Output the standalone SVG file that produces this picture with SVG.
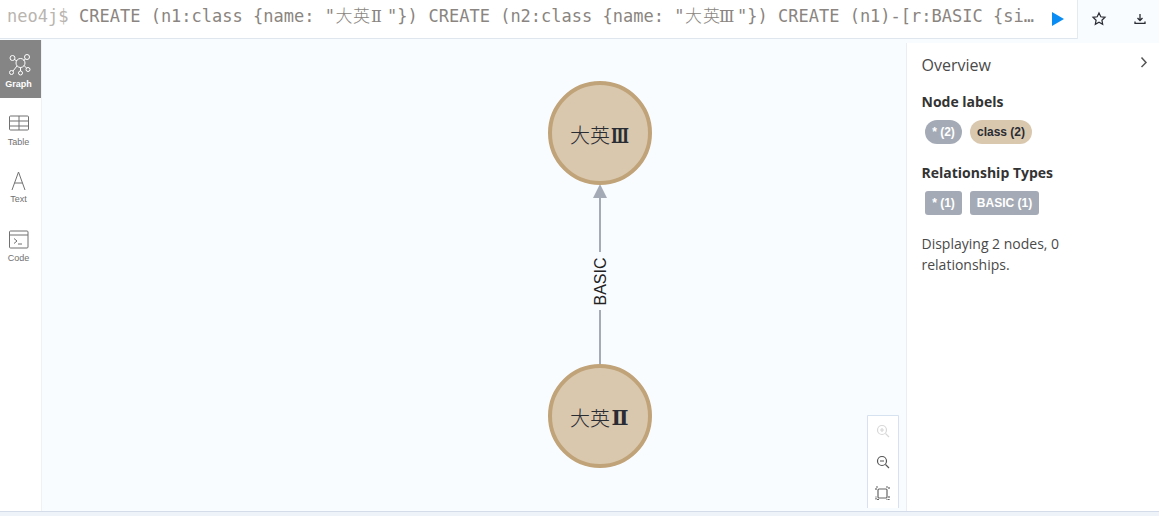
<svg xmlns="http://www.w3.org/2000/svg" width="1159" height="516" viewBox="0 0 1159 516">
<style>
.ed{font:17px "DejaVu Sans Mono","Noto Sans CJK SC",monospace;fill:#8a8580}
.cjk{font-family:"Noto Sans CJK SC",sans-serif;font-weight:300}
.rom{font-family:"DejaVu Serif",serif;font-size:16px}
.nav{font:9px "Liberation Sans",sans-serif;fill:#717172;text-anchor:middle}
.h{font:bold 14px "Open Sans",sans-serif;fill:#333}
.p{font:14px "Open Sans",sans-serif;fill:#4a4a4a}
.pill{font:bold 12px "Liberation Sans",sans-serif;fill:#fff;text-anchor:middle}
.nt{font:300 20px "Noto Sans CJK SC",sans-serif;fill:#2a2c34}
.nr{font:bold 20.500px "DejaVu Serif",serif;fill:#2a2c34}
.ic{fill:none;stroke:#717172;stroke-width:1}
</style>
<rect width="1159" height="516" fill="#f9fcff"/>
<rect x="0" y="0" width="1159" height="38" fill="#fff"/>
<rect x="1077" y="0" width="82" height="42" fill="#f9fcff"/>
<rect x="0" y="38" width="1077" height="1" fill="#dfe6ee"/>
<rect x="1077" y="0" width="1" height="39" fill="#e4eaf1"/>
<text class="ed" y="22"><tspan x="7" fill="#b9b5b0">neo4j$</tspan><tspan x="79">CREATE (n1:class {name: "</tspan><tspan x="335.500" class="cjk">大</tspan><tspan x="353" class="cjk">英</tspan><tspan x="371" class="rom">Ⅱ</tspan><tspan x="387">"}) </tspan><tspan x="428.500">CREATE (n2:class {name: "</tspan><tspan x="685" class="cjk">大</tspan><tspan x="703" class="cjk">英</tspan><tspan x="719" class="rom">Ⅲ</tspan><tspan x="737">"}) </tspan><tspan x="778">CREATE (n1)-[r:BASIC {si…</tspan></text>
<path d="M1052 12L1064 19L1052 26Z" fill="#0a8cf5"/>
<path d="M1099 13l1.800 3.800 4.200.5-3.100 2.900.8 4.100-3.700-2-3.700 2 .8-4.100-3.100-2.900 4.200-.5Z" fill="none" stroke="#2a2c34" stroke-width="1.200"/>
<path d="M1140 14v6M1137.500 18l2.500 2.500 2.500-2.500M1135 21.500v1.800h10v-1.800" fill="none" stroke="#2a2c34" stroke-width="1.300"/>

<rect x="0" y="40" width="41" height="472" fill="#fff"/>
<rect x="41" y="40" width="1" height="472" fill="#eef2f7"/>
<g id="nav-graph">
<rect x="0" y="40" width="41" height="58" fill="#858585"/>
<g fill="none" stroke="#fff" stroke-width="1"><circle cx="20.500" cy="63" r="4.500"/><circle cx="12.500" cy="58" r="2.500"/><circle cx="27" cy="57" r="2.500"/><circle cx="11.500" cy="72.500" r="2"/><circle cx="20.500" cy="73" r="2"/><circle cx="28" cy="69.500" r="2"/><path d="M14.500 59.500L17 61M25.500 59L23.500 60.500M17 66L13 71M20.500 67.500V71M24 65.500L26.500 68"/></g>
<text class="nav" x="18.500" y="87" style="fill:#fff;font-weight:bold">Graph</text>
</g>
<g id="nav-table">
<rect class="ic" x="9.500" y="116" width="19" height="14" rx="1"/><path class="ic" d="M9.500 121H28.500M9.500 126H28.500M19 116V130"/>
<text class="nav" x="18.500" y="145">Table</text>
</g>
<g id="nav-text">
<path class="ic" d="M12 190L18.500 172L25 190M14.500 183H22.500"/>
<text class="nav" x="18.500" y="202">Text</text>
</g>
<g id="nav-code">
<rect class="ic" x="9.500" y="231" width="18.500" height="17" rx="1"/><path class="ic" d="M9.500 235H28M14 238.500L17 241L14 243.500M18 244H22"/>
<text class="nav" x="18.500" y="261">Code</text>
</g>

<g id="connectors">
<path d="M600 364V310" stroke="#a5abb6" stroke-width="2" fill="none"/>
<path d="M600 252V198" stroke="#a5abb6" stroke-width="2" fill="none"/>
<path d="M600 184L607 198H593Z" fill="#a5abb6"/>
<text transform="translate(605.500,281.500) rotate(-90)" text-anchor="middle" style="font:16px 'Liberation Sans',sans-serif;fill:#222">BASIC</text>
</g>
<g id="node-n2">
<circle cx="600" cy="133" r="50" fill="#d9c8ae" stroke="#c0a378" stroke-width="4"/>
<text class="nt" x="570" y="143">大英</text>
<text class="nr" x="611" y="143" textLength="18" lengthAdjust="spacingAndGlyphs">Ⅲ</text>
</g>
<g id="node-n1">
<circle cx="600" cy="416" r="50" fill="#d9c8ae" stroke="#c0a378" stroke-width="4"/>
<text class="nt" x="570" y="426">大英</text>
<text class="nr" x="611.500" y="425" textLength="17" lengthAdjust="spacingAndGlyphs">Ⅱ</text>
</g>

<g id="zoom-controls">
<path d="M867.500 508V415.500H898.500V508" fill="#fff" stroke="#d7e2f1"/>
<g fill="none" stroke-width="1.200"><g stroke="#d8d8d8"><circle cx="882" cy="430" r="4.500"/><path d="M885.500 433.500L889 437M880 430H884M882 428V432"/></g>
<g stroke="#555"><circle cx="882" cy="461" r="4.500"/><path d="M885.500 464.500L889 468M880 461H884"/></g>
<g stroke="#666"><rect x="878" y="489" width="9" height="9" rx="1"/><path d="M876 490V487H879M886 487H889V490M889 496V499.500H886M879 499.500H876V496" stroke-dasharray="2 1"/></g></g>
</g>

<g id="overview">
<rect x="907" y="43" width="252" height="469" fill="#fff"/>
<rect x="906" y="43" width="1" height="469" fill="#e9eef4"/>
<text x="921.500" y="71" style="font:16px 'Open Sans',sans-serif;fill:#4a4a4a">Overview</text>
<path d="M1141.500 57.500L1146 62.500L1141.500 67" fill="none" stroke="#555" stroke-width="1.500"/>
<text class="h" x="921.500" y="107">Node labels</text>
<rect x="925" y="120" width="37" height="24" rx="12" fill="#a5abb6"/>
<text class="pill" x="943.500" y="136">* (2)</text>
<rect x="970" y="120" width="62" height="24" rx="12" fill="#d9c8ae"/>
<text class="pill" x="1001" y="136" style="fill:#2a2c34">class (2)</text>
<text class="h" x="921.500" y="178">Relationship Types</text>
<rect x="925" y="191" width="37" height="24" rx="3" fill="#a5abb6"/>
<text class="pill" x="943.500" y="207">* (1)</text>
<rect x="970" y="191" width="69" height="24" rx="3" fill="#a5abb6"/>
<text class="pill" x="1004.500" y="207">BASIC (1)</text>
<text class="p" x="921.500" y="249">Displaying 2 nodes, 0</text>
<text class="p" x="921.500" y="270">relationships.</text>
</g>
<rect x="0" y="511" width="1159" height="5" fill="#eef3f9"/>
<rect x="0" y="511" width="1159" height="1" fill="#d3dce8"/>
</svg>
